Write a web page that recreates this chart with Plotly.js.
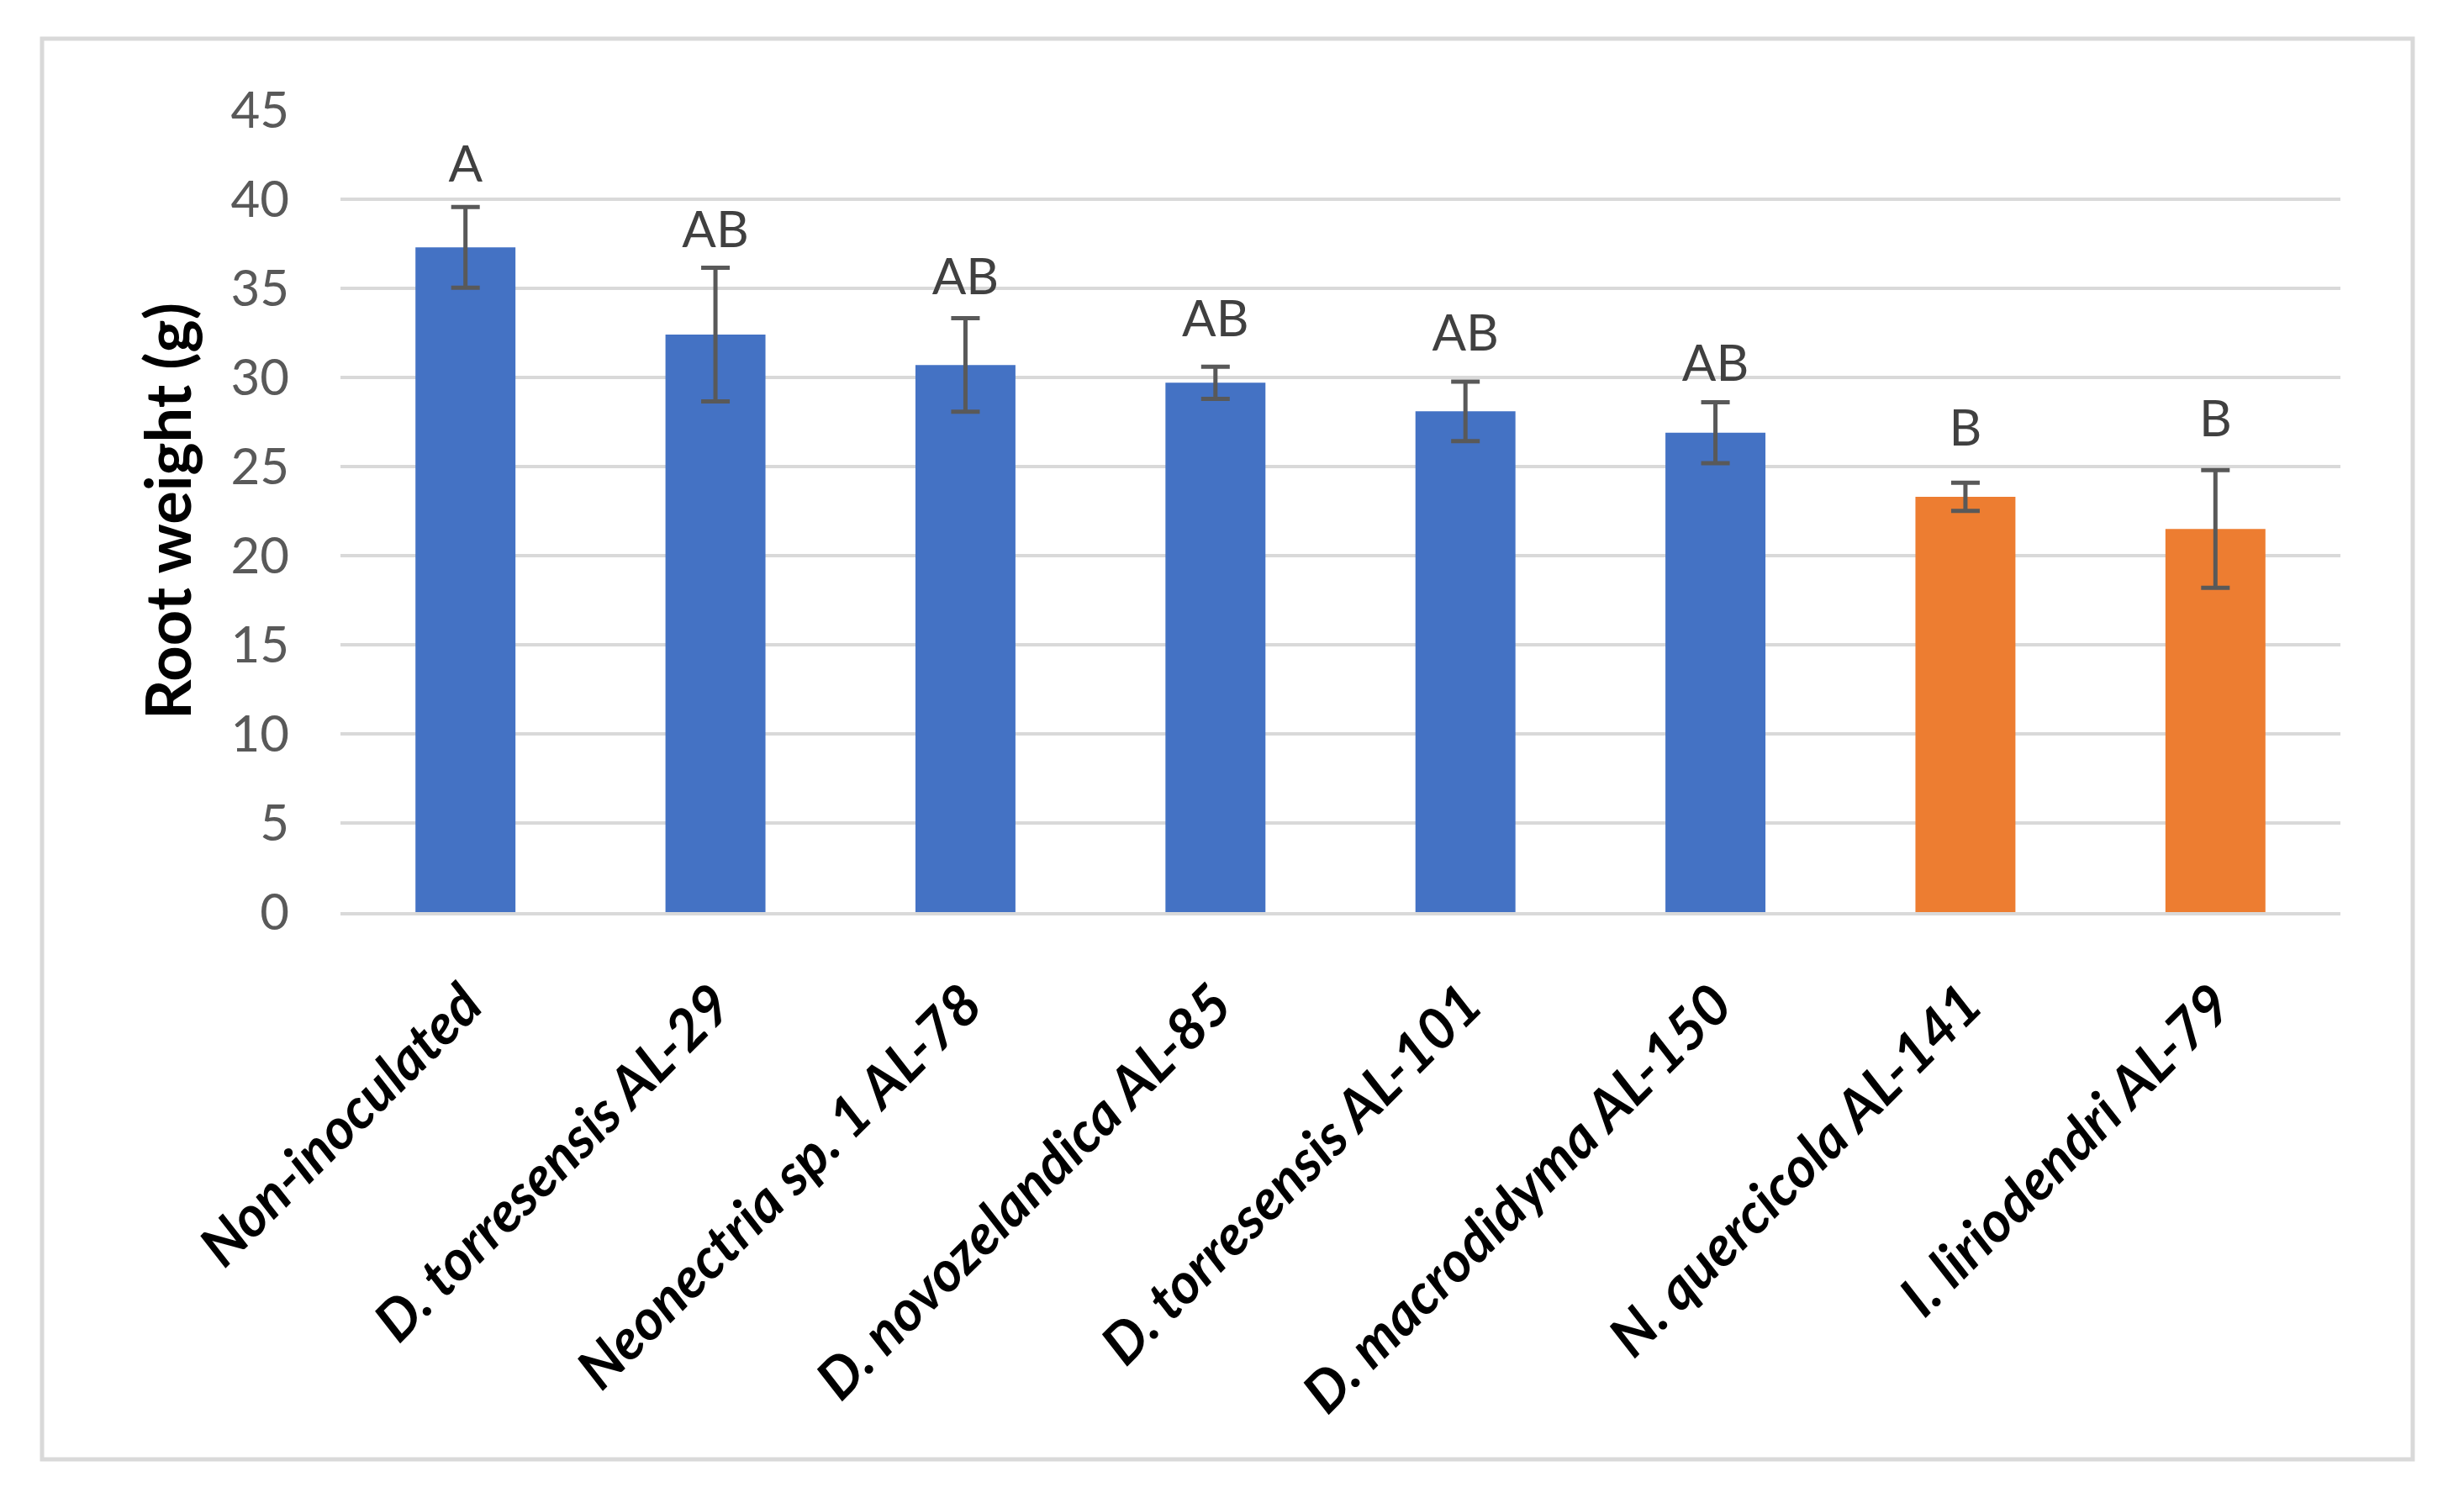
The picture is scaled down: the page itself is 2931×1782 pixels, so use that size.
<!DOCTYPE html>
<html>
<head>
<meta charset="utf-8">
<script src="https://cdn.plot.ly/plotly-3.0.1.min.js"></script>
<style>html,body{margin:0;padding:0;background:#fff;}</style>
</head>
<body>
<div id="chart" style="width:2931px;height:1782px;"></div>
<script>
// ---- data ----
const categories = [
  "Non-inoculated",
  "D. torresensis AL-29",
  "Neonectria sp. 1 AL-78",
  "D. novozelandica AL-85",
  "D. torresensis AL-101",
  "D. macrodidyma AL-150",
  "N. quercicola AL-141",
  "I. liriodendri AL-79"
];
const rootWeight = [37.3, 32.4, 30.7, 29.7, 28.1, 26.9, 23.3, 21.5];
const errorValues = [2.26, 3.75, 2.62, 0.90, 1.67, 1.71, 0.79, 3.30];
const groupLetters = ["A", "AB", "AB", "AB", "AB", "AB", "B", "B"];
const letterHeights = [41.7, 38.0, 35.4, 33.0, 32.2, 30.5, 26.9, 27.4];
const groupKind = ["blue", "blue", "blue", "blue", "blue", "blue", "orange", "orange"];
const yTicks = [0, 5, 10, 15, 20, 25, 30, 35, 40, 45];

const palette = {blue: "#4472C4", orange: "#ED7D31"};
const barColors = groupKind.map(k => palette[k]);
const FONT = "Lato, 'Open Sans', sans-serif";

const bars = {
  type: "bar",
  x: categories,
  y: rootWeight,
  marker: {color: barColors},
  error_y: {type: "data", array: errorValues, visible: true, color: "#595959", thickness: 5, width: 17},
  hoverinfo: "skip",
  showlegend: false
};

const letters = {
  type: "scatter",
  mode: "text",
  x: categories,
  y: letterHeights,
  text: groupLetters,
  textposition: "middle center",
  textfont: {family: FONT, size: 60, color: "#404040"},
  hoverinfo: "skip",
  showlegend: false
};

const W = 2931, H = 1782;
const m = {l: 405, r: 147, t: 131, b: 697};
const pw = W - m.l - m.r, ph = H - m.t - m.b;
const px = v => (v - m.l) / pw;
const py = v => (H - m.b - v) / ph;

const layout = {
  width: W, height: H,
  margin: m,
  paper_bgcolor: "#ffffff",
  plot_bgcolor: "#ffffff",
  bargap: 0.6,
  showlegend: false,
  xaxis: {
    type: "category",
    tickangle: -45,
    tickfont: {family: FONT, size: 67, color: "#000000", weight: 700, style: "italic"},
    ticks: "",
    ticklabelstandoff: 40,
    showgrid: false,
    zeroline: false,
    showline: true,
    linecolor: "#D9D9D9",
    linewidth: 4
  },
  yaxis: {
    range: [0, 45],
    tickvals: yTicks,
    ticktext: yTicks.map(String),
    tickfont: {family: FONT, size: 60, color: "#595959"},
    ticks: "",
    ticklabelstandoff: 60,
    showgrid: true,
    gridcolor: "#D9D9D9",
    gridwidth: 4,
    zeroline: false,
    showline: false,
    title: {text: "Root weight (g)", font: {family: FONT, size: 74, color: "#000000", weight: 700}, standoff: 22}
  },
  shapes: [{
    type: "rect", xref: "paper", yref: "paper",
    x0: px(50), x1: px(2870), y0: py(1736), y1: py(46),
    line: {color: "#D9D9D9", width: 5}, fillcolor: "rgba(0,0,0,0)", layer: "below"
  }]
};

Plotly.newPlot("chart", [bars, letters], layout, {staticPlot: true, displayModeBar: false});
</script>
</body>
</html>
